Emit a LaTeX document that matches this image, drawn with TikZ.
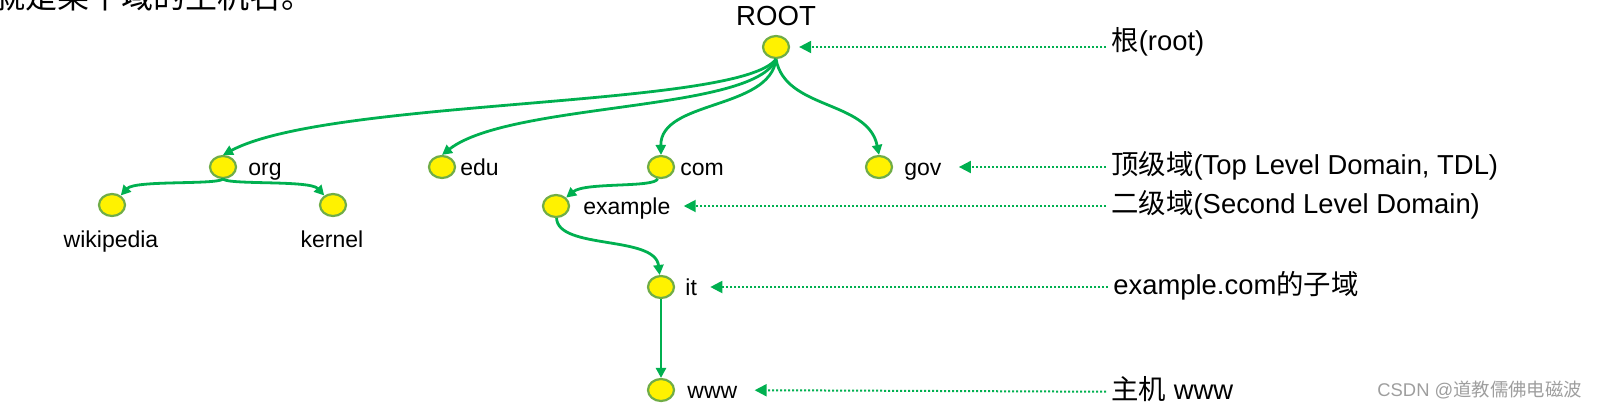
\documentclass[tikz,border=0pt]{standalone}
\usepackage{fontspec}
\setmainfont{Liberation Sans}
\newfontfamily\cjk{Noto Sans CJK SC}
\usetikzlibrary{shapes.geometric,arrows.meta}
\definecolor{arrowgreen}{RGB}{0,176,80}
\definecolor{rimgreen}{RGB}{112,173,71}

\begin{document}
\begin{tikzpicture}[x=0.5pt,y=-0.5pt,
    >={Triangle[length=5pt,width=5pt]},
    host/.style={
% The shape:
ellipse,
% The size:
minimum width=13pt, minimum height=11pt, inner sep=0pt,
% The border:
draw=rimgreen, line width=1.1pt, fill=yellow,
},
    domtext/.style={
% The text:
font=\fontsize{11.5pt}{12pt}\selectfont,
anchor=west, inner sep=0pt, text height=8pt, text depth=0pt,
},
    side/.style={
% The text:
font=\fontsize{13.7pt}{14pt}\selectfont,
anchor=west, inner sep=0pt, text height=7pt, text depth=0pt,
},
    link/.style={
% The line:
->, arrowgreen, line width=1.4pt,
},
    hint/.style={
% The line:
>={Triangle[length=6pt,width=6pt]}, ->, arrowgreen, line width=1pt,
dash pattern=on 1pt off 1pt, shorten <=2.5pt, shorten >=7pt,
},
]
  \useasboundingbox (0,0) rectangle (1604,408);
  \node[font=\cjk\fontsize{16pt}{17pt}\selectfont, anchor=base west, inner sep=0pt]
    (intro) at (-7,8) {就是某个域的主机名。};

  % the tree
  \node[host]                           (root) at (776,47) {};
  \node[font=\fontsize{13.8pt}{14pt}\selectfont, anchor=base]
    (root-l) at (776,25) {ROOT};
  \node[host]                           (org) at (223,167) {};
  \node[host]                           (edu) at (442,167) {};
  \node[host]                           (com) at (661,167) {};
  \node[host]                           (gov) at (879,167) {};
  \node[host]                           (wiki) at (112,205) {};
  \node[host]                           (kernel) at (333,205) {};
  \node[host]                           (example) at (556,206) {};
  \node[host]                           (it) at (661,287) {};
  \node[host]                           (www) at (661,390) {};

  \node[domtext]                        (org-l) at (248,167) {org};
  \node[domtext]                        (edu-l) at (460,167) {edu};
  \node[domtext]                        (com-l) at (680,167) {com};
  \node[domtext]                        (gov-l) at (904,167) {gov};
  \node[domtext]                        (example-l) at (583,206) {example};
  \node[domtext]                        (it-l) at (685,287) {it};
  \node[domtext]                        (www-l) at (687,390) {www};
  \node[domtext,anchor=base]            (wiki-l) at (111,247) {wikipedia};
  \node[domtext,anchor=base]            (kernel-l) at (332,247) {kernel};

  % the notes on the right
  \node[side]                           (t-root) at (1111,43) {{\cjk 根}(root)};
  \node[side]                           (t-tld) at (1111,167)
    {{\cjk 顶级域}(Top Level Domain, TDL)};
  \node[side]                           (t-sld) at (1111,206)
    {{\cjk 二级域}(Second Level Domain)};
  \node[side]                           (t-sub) at (1113,287) {example.com{\cjk 的子域}};
  \node[side]                           (t-host) at (1111,392) {{\cjk 主机} www};

  \node[font=\fontsize{9.2pt}{10pt}\selectfont, text=black!38, anchor=base west, inner sep=0pt]
    (mark) at (1377,396) {CSDN @{\cjk 道教儒佛电磁波}};

  \draw [link] (root.south) .. controls (740,108) and (330,98) .. (org.north);
  \draw [link] (root.south) .. controls (755,112) and (510,102) .. (edu.north);
  \draw [link] (root.south) .. controls (770,110) and (660,100) .. (com.north);
  \draw [link] (root.south) .. controls (785,110) and (868,100) .. (gov.north);
  \draw [link] (org.south) .. controls (215,185) and (135,180) .. (wiki);
  \draw [link] (org.south) .. controls (230,185) and (310,180) .. (kernel);
  \draw [link] (com) .. controls (655,188) and (585,182) .. (example);
  \draw [link] (example) .. controls (558,250) and (655,235) .. (it);
  \draw [link] (it) -- (www);

  \draw [hint,shorten >=4.5pt] (t-root.west |- root) -- (root);
  \draw [hint,shorten >=8.5pt] (t-tld) -- (gov-l);
  \draw [hint,shorten >=6.5pt] (t-sld) -- (example-l);
  \draw [hint,shorten >=6.5pt] (t-sub) -- (it-l);
  \draw [hint,shorten >=8.5pt] (t-host) -- (www-l);

\end{tikzpicture}
\end{document}
